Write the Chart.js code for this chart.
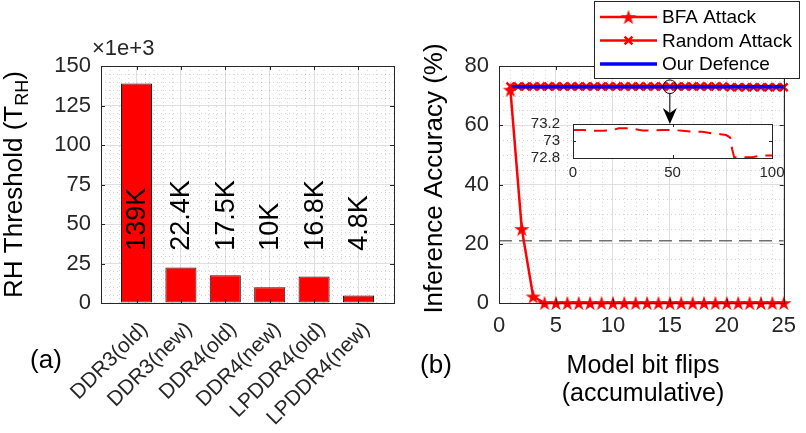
<!DOCTYPE html>
<html>
<head>
<meta charset="utf-8">
<script src="https://cdn.jsdelivr.net/npm/chart.js@4.4.1/dist/chart.umd.min.js"></script>
<style>
    html, body { margin: 0; padding: 0; background: #fff; }
    #wrap { position: relative; width: 806px; height: 433px; overflow: hidden; }
    canvas { position: absolute; }
    #rhChart { left: 0; top: 0; width: 400px; height: 433px; }
    #accChart { left: 400px; top: 0; width: 406px; height: 433px; }
    #insetChart { left: 530px; top: 110px; width: 276px; height: 75px; }
</style>
</head>
<body>
<div id="wrap">
    <canvas id="rhChart" width="400" height="433"></canvas>
    <canvas id="accChart" width="406" height="433"></canvas>
    <canvas id="insetChart" width="276" height="75"></canvas>
</div>
<script>
"use strict";

// (a) row hammer threshold, x1e+3
const memoryTypes = ["DDR3(old)", "DDR3(new)", "DDR4(old)", "DDR4(new)", "LPDDR4(old)", "LPDDR4(new)"];
const rhThreshold = [139, 22.4, 17.5, 10, 16.8, 4.8];
const rhLabels = ["139K", "22.4K", "17.5K", "10K", "16.8K", "4.8K"];
const rhTicks = [0, 25, 50, 75, 100, 125, 150];

// (b) inference accuracy vs. bit flips
const bitFlips = [1, 2, 3, 4, 5, 6, 7, 8, 9, 10, 11, 12, 13, 14, 15, 16, 17, 18, 19, 20, 21, 22, 23, 24, 25];
const bfaAccuracy = [72, 25, 2.2, 0, 0, 0, 0, 0, 0, 0, 0, 0, 0, 0, 0, 0, 0, 0, 0, 0, 0, 0, 0, 0, 0];
const defenceAccuracy = [73, 73, 73, 73, 73, 73, 73, 73, 73, 73, 73, 73, 73, 73, 73, 73, 73, 73, 73, 73, 73, 73, 73, 73, 73];
const randomAccuracy = [
    73.1, 73.1, 73.1, 73.1, 73.1, 73.1, 73.1, 73.1, 73.1, 73.1,
    73.1, 73.1, 73.1, 73.1, 73.1, 73.1, 73.1, 73.1, 73.1, 73.1,
    73.1, 73.1, 73.1, 73.1, 73.1, 73.1, 73.1, 73.1, 73.1, 72.8,
    72.8, 72.8, 72.8, 72.8, 72.8, 72.8, 72.8
];
const randomGuess = 21;
const accXTicks = [0, 5, 10, 15, 20, 25];
const accYTicks = [0, 20, 40, 60, 80];

// inset: random attack zoomed
const insetIter = [0, 5, 10, 15, 20, 23, 28, 35, 40, 45, 50, 55, 60, 65, 70, 74, 77, 79, 80, 81, 85, 90, 95, 100];
const insetAccuracy = [73.13, 73.13, 73.12, 73.12, 73.13, 73.15, 73.15, 73.125, 73.125, 73.13, 73.13, 73.12,
    73.11, 73.11, 73.09, 73.08, 73.07, 73.04, 72.9, 72.81, 72.81, 72.81, 72.83, 72.83];
const insetXTicks = [0, 50, 100];
const insetYTicks = [72.8, 73, 73.2];

const FONT = "'Liberation Sans', Arial, Helvetica, sans-serif";
const AXIS_COLOR = "#262626";
const MAJOR_GRID = "#dfdfdf";
const MINOR_GRID = "rgba(0, 0, 0, 0.17)";

function minorSteps(min, max, step, major) {
    const out = [];
    for (let v = min + step; v < max - 1e-9; v += step) {
        const r = v / major;
        if (Math.abs(r - Math.round(r)) > 1e-6) {
            out.push(v);
        }
    }
    return out;
}

function fixedTicks(values) {
    return (scale) => {
        scale.ticks = values.map((value) => ({ value }));
    };
}

function framePlugin(id, cfg) {
    return {
        id,
        beforeDraw(chart) {
            if (!cfg.whiteArea) {
                return;
            }
            const { ctx, chartArea: a } = chart;
            ctx.save();
            ctx.fillStyle = "#fff";
            ctx.fillRect(a.left, a.top, a.right - a.left, a.bottom - a.top);
            ctx.restore();
        },
        beforeDatasetsDraw(chart) {
            const { ctx, chartArea: a, scales } = chart;
            ctx.save();
            ctx.strokeStyle = MINOR_GRID;
            ctx.lineWidth = 1;
            ctx.setLineDash([1, 3]);
            for (const v of cfg.minorX || []) {
                const x = Math.round(scales.x.getPixelForValue(v)) + 0.5;
                ctx.beginPath();
                ctx.moveTo(x, a.top);
                ctx.lineTo(x, a.bottom);
                ctx.stroke();
            }
            for (const v of cfg.minorY || []) {
                const y = Math.round(scales.y.getPixelForValue(v)) + 0.5;
                ctx.beginPath();
                ctx.moveTo(a.left, y);
                ctx.lineTo(a.right, y);
                ctx.stroke();
            }
            ctx.restore();
        },
        afterDatasetsDraw(chart) {
            const { ctx, chartArea: a, scales } = chart;
            const len = cfg.tickLength || 4;
            ctx.save();
            ctx.strokeStyle = AXIS_COLOR;
            ctx.lineWidth = 1;
            ctx.beginPath();
            for (const t of scales.x.ticks) {
                const x = Math.round(scales.x.getPixelForValue(t.value)) + 0.5;
                ctx.moveTo(x, a.bottom);
                ctx.lineTo(x, a.bottom - len);
                ctx.moveTo(x, a.top);
                ctx.lineTo(x, a.top + len);
            }
            for (const t of scales.y.ticks) {
                const y = Math.round(scales.y.getPixelForValue(t.value)) + 0.5;
                ctx.moveTo(a.left, y);
                ctx.lineTo(a.left + len, y);
                ctx.moveTo(a.right, y);
                ctx.lineTo(a.right - len, y);
            }
            ctx.stroke();
            ctx.strokeRect(Math.round(a.left) + 0.5, Math.round(a.top) + 0.5,
                Math.round(a.right - a.left), Math.round(a.bottom - a.top));

            if (cfg.xLabels) {
                ctx.fillStyle = AXIS_COLOR;
                ctx.font = cfg.xLabels.size + "px " + FONT;
                ctx.textAlign = "center";
                ctx.textBaseline = "top";
                for (const t of scales.x.ticks) {
                    ctx.fillText(String(t.value), scales.x.getPixelForValue(t.value), a.bottom + cfg.xLabels.gap);
                }
            }
            ctx.restore();
        }
    };
}

function drawRotatedText(ctx, parts, x, y, font) {
    // parts are drawn bottom-to-top, centred on y
    ctx.save();
    ctx.translate(x, y);
    ctx.rotate(-Math.PI / 2);
    ctx.fillStyle = "#000";
    ctx.textBaseline = "alphabetic";
    let total = 0;
    for (const p of parts) {
        ctx.font = p.font || font;
        total += ctx.measureText(p.text).width;
    }
    let pos = -total / 2;
    for (const p of parts) {
        ctx.font = p.font || font;
        ctx.fillText(p.text, pos, p.shift || 0);
        pos += ctx.measureText(p.text).width;
    }
    ctx.restore();
}

function tickFont(size) {
    return { family: FONT, size };
}

function axisBase() {
    return {
        type: "linear",
        offset: false,
        border: { display: false },
        grid: { color: MAJOR_GRID, drawTicks: false, offset: false, lineWidth: 1 }
    };
}

// ---------- (a) bar chart ----------
const rhTitlePlugin = {
    id: "rhTitle",
    afterDraw(chart) {
        const { ctx } = chart;
        const a = chart.chartArea;
        drawRotatedText(ctx, [
            { text: "RH Threshold (T" },
            { text: "RH", font: "18px " + FONT, shift: 6 },
            { text: ")" }
        ], 22, (a.top + a.bottom) / 2, "26px " + FONT);

        ctx.save();
        ctx.fillStyle = AXIS_COLOR;
        ctx.font = "22px " + FONT;
        ctx.textBaseline = "alphabetic";
        ctx.fillText("\u00d71e+3", 92, 55);
        ctx.fillStyle = "#000";
        ctx.font = "26px " + FONT;
        ctx.textAlign = "center";
        ctx.textBaseline = "middle";
        ctx.fillText("(a)", 46, 361);
        ctx.restore();
    }
};

const barTextPlugin = {
    id: "barText",
    afterDatasetsDraw(chart) {
        const { ctx } = chart;
        const y = chart.scales.y.getPixelForValue(33);
        chart.getDatasetMeta(0).data.forEach((bar, i) => {
            ctx.save();
            ctx.translate(bar.x + 1, y);
            ctx.rotate(-Math.PI / 2);
            ctx.font = "27px " + FONT;
            ctx.fillStyle = "#000";
            ctx.textAlign = "left";
            ctx.textBaseline = "middle";
            ctx.fillText(rhLabels[i], 0, 0);
            ctx.restore();
        });
    }
};

new Chart(document.getElementById("rhChart"), {
    type: "bar",
    data: {
        datasets: [{
            data: rhThreshold.map((v, i) => ({ x: i + 1, y: v })),
            backgroundColor: "#ff0000",
            borderColor: "#1a1a1a",
            borderWidth: 1,
            borderSkipped: false,
            barPercentage: 0.7,
            categoryPercentage: 1
        }]
    },
    options: {
        responsive: false,
        animation: false,
        events: [],
        layout: { padding: { top: 66, right: 6, left: 0, bottom: 0 } },
        plugins: { legend: { display: false }, tooltip: { enabled: false } },
        scales: {
            x: {
                ...axisBase(),
                min: 0.2,
                max: 6.8,
                afterBuildTicks: fixedTicks(memoryTypes.map((_, i) => i + 1)),
                afterFit: (s) => { s.height = 130; },
                ticks: {
                    callback: (v) => memoryTypes[Math.round(v) - 1],
                    autoSkip: false,
                    minRotation: 45,
                    maxRotation: 45,
                    padding: 14,
                    labelOffset: 8,
                    color: AXIS_COLOR,
                    font: tickFont(21)
                }
            },
            y: {
                ...axisBase(),
                min: 0,
                max: 150,
                afterBuildTicks: fixedTicks(rhTicks),
                afterFit: (s) => { s.width = 101; },
                ticks: { padding: 10, color: AXIS_COLOR, font: tickFont(22), autoSkip: false }
            }
        }
    },
    plugins: [
        framePlugin("frameA", { minorX: minorSteps(0.2, 6.8, 0.2, 1).filter((v) => v > 0.3), minorY: minorSteps(0, 150, 5, 25) }),
        barTextPlugin,
        rhTitlePlugin
    ]
});

// ---------- (b) line chart ----------
function makeStar(outer) {
    const size = Math.ceil(outer * 2) + 2;
    const c = document.createElement("canvas");
    c.width = size;
    c.height = size;
    const g = c.getContext("2d");
    const inner = outer * 0.382;
    g.translate(size / 2, size / 2 + outer * 0.1);
    g.beginPath();
    for (let k = 0; k < 10; k++) {
        const r = k % 2 === 0 ? outer : inner;
        const ang = -Math.PI / 2 + k * Math.PI / 5;
        g.lineTo(r * Math.cos(ang), r * Math.sin(ang));
    }
    g.closePath();
    g.fillStyle = "#ff0000";
    g.fill();
    return c;
}

const starMarker = makeStar(8);

const accDecorPlugin = {
    id: "accDecor",
    afterDatasetsDraw(chart) {
        const { ctx } = chart;
        const xs = chart.scales.x;
        const ys = chart.scales.y;
        const cx = xs.getPixelForValue(15);
        const cy = ys.getPixelForValue(73);
        const tipY = ys.getPixelForValue(60.4);
        ctx.save();
        ctx.strokeStyle = "#000";
        ctx.fillStyle = "#000";
        ctx.lineWidth = 1;
        ctx.beginPath();
        ctx.arc(cx, cy, 6.8, 0, Math.PI * 2);
        ctx.stroke();
        ctx.beginPath();
        ctx.moveTo(cx, cy + 6.8);
        ctx.lineTo(cx, tipY - 10);
        ctx.stroke();
        ctx.beginPath();
        ctx.moveTo(cx, tipY);
        ctx.lineTo(cx - 7, tipY - 16);
        ctx.lineTo(cx, tipY - 11);
        ctx.lineTo(cx + 7, tipY - 16);
        ctx.closePath();
        ctx.fill();
        ctx.restore();
    },
    afterDraw(chart) {
        const { ctx } = chart;
        const a = chart.chartArea;
        drawRotatedText(ctx, [{ text: "Inference Accuracy (%)" }], 42, (a.top + a.bottom) / 2 - 6, "26px " + FONT);

        ctx.save();
        ctx.fillStyle = "#000";
        ctx.textAlign = "center";
        ctx.textBaseline = "alphabetic";
        ctx.font = "25px " + FONT;
        ctx.fillText("Model bit flips", 243, 373);
        ctx.fillText("(accumulative)", 243, 401);
        ctx.font = "26px " + FONT;
        ctx.textBaseline = "middle";
        ctx.fillText("(b)", 36, 366);

        // legend
        ctx.fillStyle = "#fff";
        ctx.fillRect(194.5, 1.5, 205, 77);
        ctx.strokeStyle = AXIS_COLOR;
        ctx.lineWidth = 1;
        ctx.strokeRect(194.5, 1.5, 205, 77);
        const rows = [17, 40.5, 64];
        ["BFA Attack", "Random Attack", "Our Defence"].forEach((label, i) => {
            const ds = chart.data.datasets.find((d) => d.label === label);
            const y = rows[i];
            ctx.strokeStyle = ds.borderColor;
            ctx.lineWidth = ds.borderWidth;
            ctx.beginPath();
            ctx.moveTo(200, y);
            ctx.lineTo(257, y);
            ctx.stroke();
            if (ds.pointStyle === starMarker) {
                ctx.drawImage(starMarker, 228.5 - starMarker.width / 2, y - starMarker.height / 2);
            } else if (ds.pointStyle === "crossRot") {
                const r = 3.9;
                ctx.lineWidth = ds.pointBorderWidth;
                ctx.beginPath();
                ctx.moveTo(228.5 - r, y - r);
                ctx.lineTo(228.5 + r, y + r);
                ctx.moveTo(228.5 + r, y - r);
                ctx.lineTo(228.5 - r, y + r);
                ctx.stroke();
            }
            ctx.fillStyle = "#000";
            ctx.font = "19px " + FONT;
            ctx.textAlign = "left";
            ctx.textBaseline = "middle";
            ctx.fillText(label, 262, y + 1);
        });
        ctx.restore();
    }
};

new Chart(document.getElementById("accChart"), {
    type: "line",
    data: {
        datasets: [
            {
                label: "BFA Attack",
                data: bitFlips.map((x, i) => ({ x, y: bfaAccuracy[i] })),
                borderColor: "#ff0000",
                borderWidth: 2.5,
                pointStyle: starMarker,
                pointRadius: 8,
                clip: false,
                order: 0
            },
            {
                label: "Our Defence",
                data: bitFlips.map((x, i) => ({ x, y: defenceAccuracy[i] })),
                borderColor: "#0000ff",
                borderWidth: 3.5,
                pointRadius: 0,
                order: 1
            },
            {
                label: "Random Attack",
                data: randomAccuracy.map((y, i) => ({ x: 1 + i * 24 / (randomAccuracy.length - 1), y })),
                borderColor: "#ff0000",
                backgroundColor: "#ff0000",
                borderWidth: 2.5,
                pointStyle: "crossRot",
                pointRadius: 5.5,
                pointBorderWidth: 2.5,
                clip: false,
                order: 2
            },
            {
                label: "Random Guess",
                data: [{ x: 0, y: randomGuess }, { x: 25, y: randomGuess }],
                borderColor: "#707070",
                borderWidth: 1.5,
                borderDash: [13, 7],
                pointRadius: 0,
                order: 3
            }
        ]
    },
    options: {
        responsive: false,
        animation: false,
        events: [],
        layout: { padding: { top: 66, right: 13, left: 0, bottom: 0 } },
        plugins: { legend: { display: false }, tooltip: { enabled: false } },
        scales: {
            x: {
                ...axisBase(),
                min: 0,
                max: 25,
                afterBuildTicks: fixedTicks(accXTicks),
                afterFit: (s) => { s.height = 130; },
                ticks: { padding: 10, color: AXIS_COLOR, font: tickFont(22), maxRotation: 0, autoSkip: false }
            },
            y: {
                ...axisBase(),
                min: 0,
                max: 80,
                afterBuildTicks: fixedTicks(accYTicks),
                afterFit: (s) => { s.width = 99; },
                ticks: { padding: 10, color: AXIS_COLOR, font: tickFont(22), autoSkip: false }
            }
        }
    },
    plugins: [
        framePlugin("frameB", { minorX: minorSteps(0, 25, 1, 5), minorY: minorSteps(0, 80, 5, 20) }),
        accDecorPlugin
    ]
});

// ---------- inset ----------
new Chart(document.getElementById("insetChart"), {
    type: "line",
    data: {
        datasets: [{
            data: insetIter.map((x, i) => ({ x, y: insetAccuracy[i] })),
            borderColor: "#ff0000",
            borderWidth: 2,
            borderDash: [13, 8],
            pointRadius: 0
        }]
    },
    options: {
        responsive: false,
        animation: false,
        events: [],
        layout: { padding: { top: 13, right: 34, left: 0, bottom: 0 } },
        plugins: { legend: { display: false }, tooltip: { enabled: false } },
        scales: {
            x: {
                ...axisBase(),
                grid: { display: false },
                min: 0,
                max: 100,
                afterBuildTicks: fixedTicks(insetXTicks),
                afterFit: (s) => { s.height = 27; },
                ticks: { display: false }
            },
            y: {
                ...axisBase(),
                grid: { display: false },
                min: 72.8,
                max: 73.2,
                afterBuildTicks: fixedTicks(insetYTicks),
                afterFit: (s) => { s.width = 43; },
                ticks: {
                    padding: 5,
                    color: AXIS_COLOR,
                    font: tickFont(15),
                    autoSkip: false,
                    callback: (v) => String(Math.round(v * 10) / 10)
                }
            }
        }
    },
    plugins: [framePlugin("frameIn", { whiteArea: true, tickLength: 3, xLabels: { size: 15, gap: 7 } })]
});
</script>
</body>
</html>
